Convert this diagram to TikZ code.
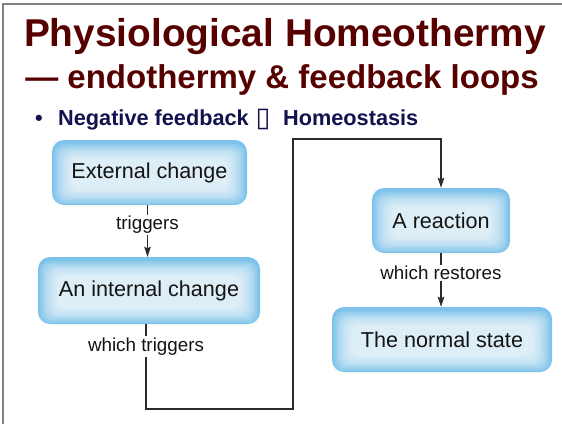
\documentclass[tikz,border=0pt]{standalone}
\usepackage{fontspec}
\setmainfont{Liberation Sans}
\newfontfamily\symfont{DejaVu Sans}
\usetikzlibrary{arrows.meta}
\definecolor{titlered}{HTML}{570000}
\definecolor{navy}{HTML}{12124F}
\definecolor{boxblue}{HTML}{7DC2EA}
\definecolor{framegray}{HTML}{808080}
\definecolor{linegray}{HTML}{2B2B2B}
\definecolor{txt}{HTML}{141414}
\begin{document}
\begin{tikzpicture}[x=1pt,y=-1pt,
  glowbox/.style={rounded corners=12pt, fill=boxblue, inner sep=0pt,
    font=\fontsize{21.6}{24}\selectfont, text=txt,
    path picture={
      \foreach \i in {0,...,13}{
        \fill[white, opacity=0.1, rounded corners=9pt]
          ([shift={(2pt+\i*1.4pt, 1pt+\i*1.2pt)}]path picture bounding box.south west)
          rectangle
          ([shift={(-2pt-\i*1.4pt, -4pt-\i*1.2pt)}]path picture bounding box.north east);
      }
    }},
  lab/.style={fill=white, inner sep=1.5pt, font=\fontsize{18.8}{21}\selectfont, text=txt},
  conn/.style={draw=linegray, line width=1.2pt},
  arr/.style={conn, -{Stealth[length=10pt, width=6.5pt, inset=1.5pt]}},
  titleA/.style={font=\bfseries\fontsize{38.8}{40}\selectfont, text=titlered, inner sep=0pt},
  titleB/.style={font=\bfseries\fontsize{33}{36}\selectfont, text=titlered, inner sep=0pt},
  bul/.style={font=\bfseries\fontsize{21.7}{24}\selectfont, text=navy, inner sep=0pt}
]
\useasboundingbox (0,0) rectangle (562,424);
\fill[white] (0,0) rectangle (562,424);
\draw[framegray, line width=1.5pt] (3,424) -- (3,4) -- (562,4);

% titles
\node[titleA, anchor=base] (t1) at (285,46) {Physiological Homeothermy};
\node[titleB, anchor=base] (t2) at (282,88) {— endothermy \& feedback loops};

% bullet line
\node[bul, anchor=base] (b0) at (39,125) {•};
\node[bul, anchor=base west] (b1) at (58,125) {Negative feedback};
\node[font=\symfont\fontsize{27}{28}\selectfont, text=navy, inner sep=0pt] (b2) at (263,119.5) {▯};
\node[bul, anchor=base west] (b3) at (283,125) {Homeostasis};

% boxes
\node[glowbox, minimum width=195pt, minimum height=65pt] (ext) at (149.5,172.5) {External change};
\node[glowbox, minimum width=222pt, minimum height=67pt] (int) at (149,290.5) {An internal change};
\node[glowbox, minimum width=138pt, minimum height=65pt] (rea) at (441,220.5) {A reaction};
\node[glowbox, minimum width=220pt, minimum height=65pt] (nor) at (442,339.5) {The normal state};

% connectors
\coordinate (c1) at (293,409);
\coordinate (c2) at (293,139);
\draw[arr] ([xshift=-2pt]ext.south) -- node[lab, pos=0.38]{triggers} ([xshift=-2pt]ext.south |- int.north);
\draw[arr] ([xshift=-3pt]int.south) -- node[lab, pos=0.26]{which triggers} ([xshift=-3pt]int.south |- c1)
  -- (c1) -- (c2) -- (c2 -| rea.north) -- (rea.north);
\draw[arr] (rea.south) -- node[lab, pos=0.37]{which restores} (rea.south |- nor.north);
\end{tikzpicture}
\end{document}
